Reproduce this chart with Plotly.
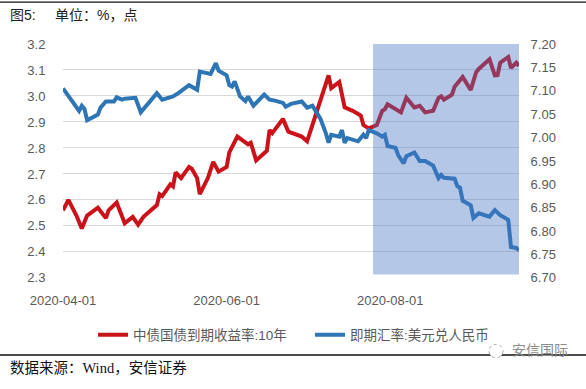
import plotly.graph_objects as go

# ---- data ----
yield_dates = ["2020-04-01","2020-04-03","2020-04-06","2020-04-08","2020-04-10","2020-04-14","2020-04-17","2020-04-18",
               "2020-04-21","2020-04-24","2020-04-27","2020-04-29","2020-05-01","2020-05-06","2020-05-07","2020-05-08",
               "2020-05-11","2020-05-12","2020-05-13","2020-05-15","2020-05-18","2020-05-19","2020-05-21","2020-05-22",
               "2020-05-25","2020-05-27","2020-05-29","2020-06-01","2020-06-02","2020-06-05","2020-06-09","2020-06-10",
               "2020-06-12","2020-06-16","2020-06-17","2020-06-18","2020-06-22","2020-06-24","2020-06-29","2020-07-01",
               "2020-07-02","2020-07-06","2020-07-09","2020-07-10","2020-07-13","2020-07-15","2020-07-18","2020-07-21",
               "2020-07-22","2020-07-24","2020-07-26","2020-07-27","2020-07-29","2020-07-30","2020-07-31","2020-08-03",
               "2020-08-05","2020-08-07","2020-08-10","2020-08-12","2020-08-14","2020-08-17","2020-08-19","2020-08-20",
               "2020-08-21","2020-08-24","2020-08-25","2020-08-28","2020-08-31","2020-09-02","2020-09-03","2020-09-07",
               "2020-09-09","2020-09-10","2020-09-11","2020-09-14","2020-09-15","2020-09-17","2020-09-18"]
yield_10y = [2.56,2.60,2.54,2.49,2.54,2.57,2.53,2.56,
             2.59,2.51,2.535,2.505,2.535,2.58,2.622,2.615,
             2.66,2.652,2.706,2.684,2.727,2.72,2.684,2.622,
             2.684,2.746,2.709,2.727,2.783,2.844,2.814,2.82,
             2.752,2.789,2.869,2.857,2.912,2.863,2.844,2.826,
             2.857,2.986,3.079,3.030,3.054,2.956,2.943,2.925,
             2.888,2.875,2.881,2.888,2.943,2.949,2.968,2.949,
             2.937,2.993,2.956,2.962,2.937,2.943,2.993,2.999,
             2.986,3.005,3.036,3.073,3.023,3.091,3.104,3.141,
             3.079,3.08,3.128,3.15,3.108,3.128,3.116]

fx_dates = ["2020-04-01","2020-04-07","2020-04-08","2020-04-09","2020-04-10","2020-04-14","2020-04-15","2020-04-17",
            "2020-04-20","2020-04-21","2020-04-23","2020-04-24","2020-04-28","2020-04-30","2020-05-06","2020-05-08",
            "2020-05-12","2020-05-14","2020-05-18","2020-05-21","2020-05-22","2020-05-26","2020-05-28","2020-05-29",
            "2020-06-01","2020-06-02","2020-06-03","2020-06-04","2020-06-06","2020-06-08","2020-06-09","2020-06-11",
            "2020-06-15","2020-06-17","2020-06-19","2020-06-22","2020-06-23","2020-06-25","2020-06-29","2020-07-01",
            "2020-07-03","2020-07-06","2020-07-08","2020-07-09","2020-07-10","2020-07-13","2020-07-14","2020-07-15",
            "2020-07-16","2020-07-20","2020-07-22","2020-07-23","2020-07-24","2020-07-27","2020-07-29","2020-07-30",
            "2020-07-31","2020-08-03","2020-08-04","2020-08-06","2020-08-07","2020-08-10","2020-08-12","2020-08-14",
            "2020-08-17","2020-08-19","2020-08-20","2020-08-21","2020-08-25","2020-08-26","2020-08-27","2020-08-28",
            "2020-08-31","2020-09-01","2020-09-03","2020-09-07","2020-09-09","2020-09-11","2020-09-14","2020-09-15",
            "2020-09-17","2020-09-18"]
usd_cny = [7.105,7.057,7.068,7.061,7.037,7.049,7.064,7.077,
           7.077,7.086,7.081,7.083,7.085,7.054,7.095,7.081,
           7.088,7.095,7.112,7.102,7.141,7.136,7.159,7.143,
           7.133,7.112,7.109,7.120,7.088,7.078,7.088,7.068,
           7.092,7.081,7.079,7.074,7.066,7.072,7.077,7.064,
           7.068,7.040,7.009,6.989,7.006,7.002,7.016,6.989,
           6.999,6.992,7.006,6.999,7.016,7.009,7.002,7.006,
           6.982,6.978,6.962,6.945,6.960,6.968,6.950,6.950,
           6.940,6.913,6.920,6.914,6.912,6.896,6.893,6.865,
           6.855,6.828,6.838,6.831,6.845,6.834,6.824,6.766,
           6.764,6.759]

x_range = ["2020-04-01", "2020-09-18"]
x_ticks = ["2020-04-01", "2020-06-01", "2020-08-01"]
shade_start = "2020-07-25 14:00"
shade_end = "2020-09-18"
left_range = [2.3, 3.2]
right_range = [6.70, 7.20]

name_yield = "中债国债到期收益率:10年"
name_fx = "即期汇率:美元兑人民币"

RED = "#cc1219"
BLUE = "#2e75b6"
TICK = "#595959"
FONT = "Liberation Sans, Noto Sans CJK SC, sans-serif"

W, H = 586, 389
L, R, T, B = 63, 519, 44, 287


def px(xp):
    return (xp - L) / (R - L)


def py(yp):
    return (B - yp) / (B - T)


fig = go.Figure()
fig.add_trace(go.Scatter(x=yield_dates, y=yield_10y, name=name_yield, mode="lines",
                         line=dict(color=RED, width=4), yaxis="y", legend="legend"))
fig.add_trace(go.Scatter(x=fx_dates, y=usd_cny, name=name_fx, mode="lines",
                         line=dict(color=BLUE, width=4), yaxis="y2", legend="legend2"))

shapes = [
    dict(type="rect", xref="x", yref="y", x0=shade_start, x1=shade_end, y0=2.313, y1=3.2,
         fillcolor="#4472c4", opacity=0.4, line=dict(width=0), layer="above"),
    dict(type="line", xref="paper", yref="paper", x0=px(0), x1=px(W), y0=py(0.5), y1=py(0.5),
         line=dict(color="#111", width=1.2)),
    dict(type="line", xref="paper", yref="paper", x0=px(0), x1=px(W), y0=py(367), y1=py(367),
         line=dict(color="#111", width=1.5)),
    dict(type="circle", xref="paper", yref="paper", x0=px(489), x1=px(503), y0=py(370), y1=py(356),
         line=dict(color="#aaaaaa", width=1, dash="dot"), fillcolor="white"),
]

annotations = [
    dict(text="图5:", x=px(8), y=py(14), xref="paper", yref="paper", xanchor="left", yanchor="middle",
         showarrow=False, font=dict(family=FONT, size=14, color="#222")),
    dict(text="单位：%，点", x=px(53), y=py(14), xref="paper", yref="paper", xanchor="left", yanchor="middle",
         showarrow=False, font=dict(family=FONT, size=14, color="#222")),
    dict(text="数据来源：Wind，安信证券", x=px(8), y=py(380.5), xref="paper", yref="paper", xanchor="left",
         yanchor="middle", showarrow=False,
         font=dict(family="Liberation Serif, Noto Sans CJK SC, serif", size=14.5, color="#111")),
    dict(text="安信国际", x=px(510), y=py(362), xref="paper", yref="paper", xanchor="left", yanchor="middle",
         showarrow=False, font=dict(family=FONT, size=14, color="#8a8a8a")),
]

legend_common = dict(orientation="h", xref="container", yref="container", y=(H - 335) / H,
                     xanchor="left", yanchor="middle", font=dict(family=FONT, size=13.5, color=TICK),
                     bgcolor="rgba(0,0,0,0)")

fig.update_layout(
    width=W, height=H,
    margin=dict(l=L, r=W - R, t=T, b=H - B, pad=0),
    paper_bgcolor="white", plot_bgcolor="white",
    showlegend=True,
    legend=dict(x=93 / W, **legend_common),
    legend2=dict(x=310 / W, **legend_common),
    xaxis=dict(type="date", range=x_range, tickvals=x_ticks, tickformat="%Y-%m-%d",
               showgrid=False, zeroline=False, showline=False,
               ticks="outside", ticklen=10, tickcolor="rgba(0,0,0,0)",
               tickfont=dict(family=FONT, size=13, color=TICK)),
    yaxis=dict(range=left_range, dtick=0.1, tickformat=".1f", showgrid=True, gridcolor="#d9d9d9",
               gridwidth=1, zeroline=False, showline=False, ticks="outside", ticklen=14,
               tickcolor="rgba(0,0,0,0)", tickfont=dict(family=FONT, size=13, color=TICK)),
    yaxis2=dict(range=right_range, dtick=0.05, tickformat=".2f", overlaying="y", side="right",
                showgrid=False, zeroline=False, showline=False, ticks="outside", ticklen=8,
                tickcolor="rgba(0,0,0,0)", tickfont=dict(family=FONT, size=13, color=TICK)),
    shapes=shapes,
    annotations=annotations,
)

fig.write_html("out.html", config={"displayModeBar": False},
               post_script="document.body.style.margin='0';")
